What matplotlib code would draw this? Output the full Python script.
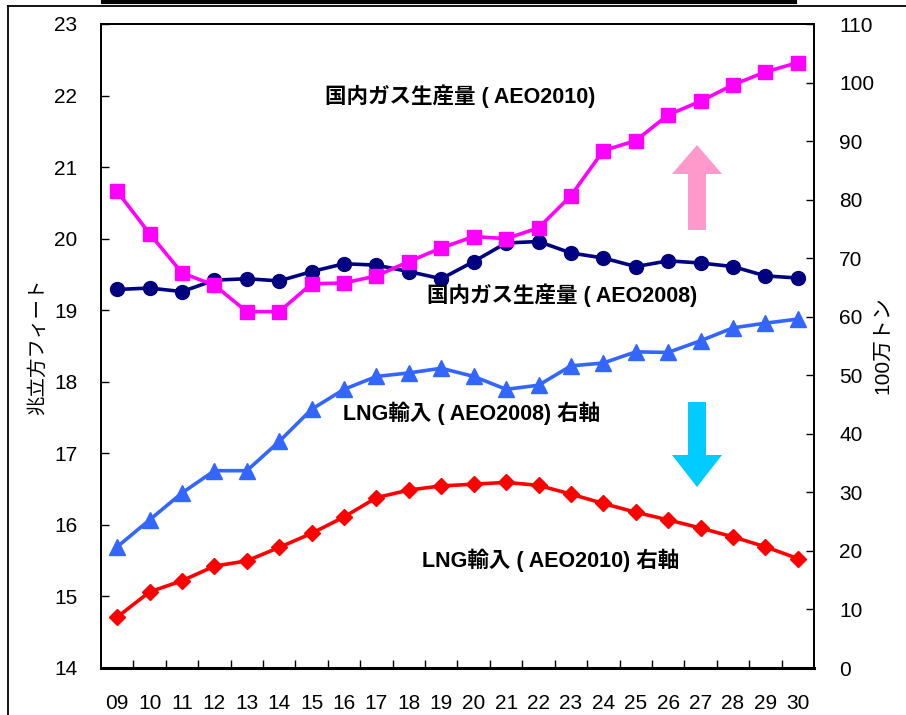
import matplotlib.pyplot as plt
import numpy as np
from matplotlib.patches import Polygon
from matplotlib.lines import Line2D

plt.rcParams['font.family'] = ['Liberation Sans', 'Noto Sans CJK JP', 'DejaVu Sans']

########################################################################################################################
# Data (AEO2008 / AEO2010)

years = ["09", "10", "11", "12", "13", "14", "15", "16", "17", "18", "19",
         "20", "21", "22", "23", "24", "25", "26", "27", "28", "29", "30"]

# domestic gas production, tcf (left axis)
gas_aeo2010 = [20.66, 20.07, 19.52, 19.35, 18.98, 18.98, 19.37, 19.38, 19.48, 19.68, 19.87,
               20.03, 20.00, 20.15, 20.60, 21.23, 21.37, 21.73, 21.92, 22.15, 22.33, 22.46]
gas_aeo2008 = [19.29, 19.31, 19.26, 19.42, 19.44, 19.41, 19.54, 19.65, 19.63, 19.54, 19.44,
               19.68, 19.94, 19.96, 19.80, 19.73, 19.61, 19.69, 19.66, 19.61, 19.48, 19.45]

# LNG imports, million tonnes (right axis)
lng_aeo2008 = [20.7, 25.3, 29.9, 33.7, 33.7, 38.7, 44.2, 47.6, 49.8, 50.4, 51.2,
               49.8, 47.6, 48.3, 51.6, 52.1, 54.0, 53.9, 55.9, 58.1, 58.9, 59.6]
lng_aeo2010 = [8.7, 13.0, 14.9, 17.4, 18.3, 20.6, 23.0, 25.8, 29.1, 30.4, 31.1,
               31.4, 31.7, 31.2, 29.7, 28.1, 26.6, 25.3, 23.9, 22.4, 20.7, 18.7]

left_ticks = list(range(14, 24))
right_ticks = list(range(0, 120, 10))

########################################################################################################################
# Figure

W, H = 906, 715
fig = plt.figure(figsize=(W / 100, H / 100), dpi=100)


def fx(px):
    return px / W


def fy(py):
    return 1 - py / H


ax = fig.add_axes([fx(101), fy(668), fx(814) - fx(101), fy(24) - fy(668)])
ax2 = ax.twinx()

x = np.arange(len(years))
kw = dict(lw=2.6, clip_on=False)

ax.plot(x, gas_aeo2010, color="#FF00FF", marker="s", ms=10, zorder=4, **kw)
ax.plot(x, gas_aeo2008, color="#000080", marker="o", ms=10, zorder=3, **kw)
ax2.plot(x, lng_aeo2008, color="#3366FF", marker="^", ms=11, **kw)
ax2.plot(x, lng_aeo2010, color="#FF0000", marker="D", ms=8.5, **kw)

ax.set_xlim(-0.5, len(years) - 0.5)
ax.set_ylim(14, 23)
ax2.set_ylim(0, 110)
ax.set_zorder(ax2.get_zorder() + 1)
ax.patch.set_visible(False)

ax.set_yticks(left_ticks)
ax2.set_yticks(right_ticks)
ax.set_xticks(x)
ax.set_xticklabels(years)
ax.set_xticks(np.arange(0.5, len(years) - 1, 1), minor=True)

ax.tick_params(axis="x", which="major", length=0, labelsize=15, pad=19)
ax.tick_params(axis="x", which="minor", length=6, direction="in", width=1)
ax.tick_params(axis="y", length=6, direction="in", labelsize=15, pad=17, width=1)
ax2.tick_params(axis="y", length=6, direction="in", labelsize=15, pad=18, width=1)

for a in (ax, ax2):
    a.spines["top"].set_visible(True)
    for s in a.spines.values():
        s.set_linewidth(1.3)
ax.spines["bottom"].set_linewidth(2.2)

fig.text(fx(38), fy(347), "兆立方フィート", rotation=90, ha="center", va="center",
         fontsize=14, family=['Noto Sans CJK JP'])
fig.text(fx(883), fy(345), "100万トン", rotation=90, ha="center", va="center",
         fontsize=15, family=['Liberation Sans', 'Noto Sans CJK JP'])

# series labels
lab = dict(ha="center", va="center", fontsize=15.5, fontweight="bold",
           family=['Liberation Sans', 'Noto Sans CJK JP'])
fig.text(fx(460), fy(96), "国内ガス生産量 ( AEO2010)", **lab)
fig.text(fx(562), fy(295), "国内ガス生産量 ( AEO2008)", **lab)
fig.text(fx(472), fy(413), "LNG輸入 ( AEO2008) 右軸", **lab)
fig.text(fx(551), fy(560), "LNG輸入 ( AEO2010) 右軸", **lab)


# block arrows
def block_arrow(cx, tail, tip, head_base, shaft_w, head_w, color):
    pts = [(cx - shaft_w / 2, tail), (cx - shaft_w / 2, head_base), (cx - head_w / 2, head_base),
           (cx, tip), (cx + head_w / 2, head_base), (cx + shaft_w / 2, head_base),
           (cx + shaft_w / 2, tail)]
    fig.patches.append(Polygon([(fx(px), fy(py)) for px, py in pts], closed=True,
                               transform=fig.transFigure, facecolor=color, edgecolor="none"))


block_arrow(697, 230, 145, 174, 18, 50, "#FF99CC")
block_arrow(697, 402, 487, 455, 18, 50, "#00CCFF")

# frame lines
fig.lines.append(Line2D([fx(7.5), fx(7.5)], [fy(6), 0], transform=fig.transFigure, color="black", lw=1.3))
fig.lines.append(Line2D([fx(7.5), 1], [fy(6), fy(6)], transform=fig.transFigure, color="black", lw=1.3))
fig.lines.append(Line2D([fx(103), fx(795)], [fy(1.5), fy(1.5)], transform=fig.transFigure, color="black", lw=3))

fig.savefig("out.png", dpi=100)
